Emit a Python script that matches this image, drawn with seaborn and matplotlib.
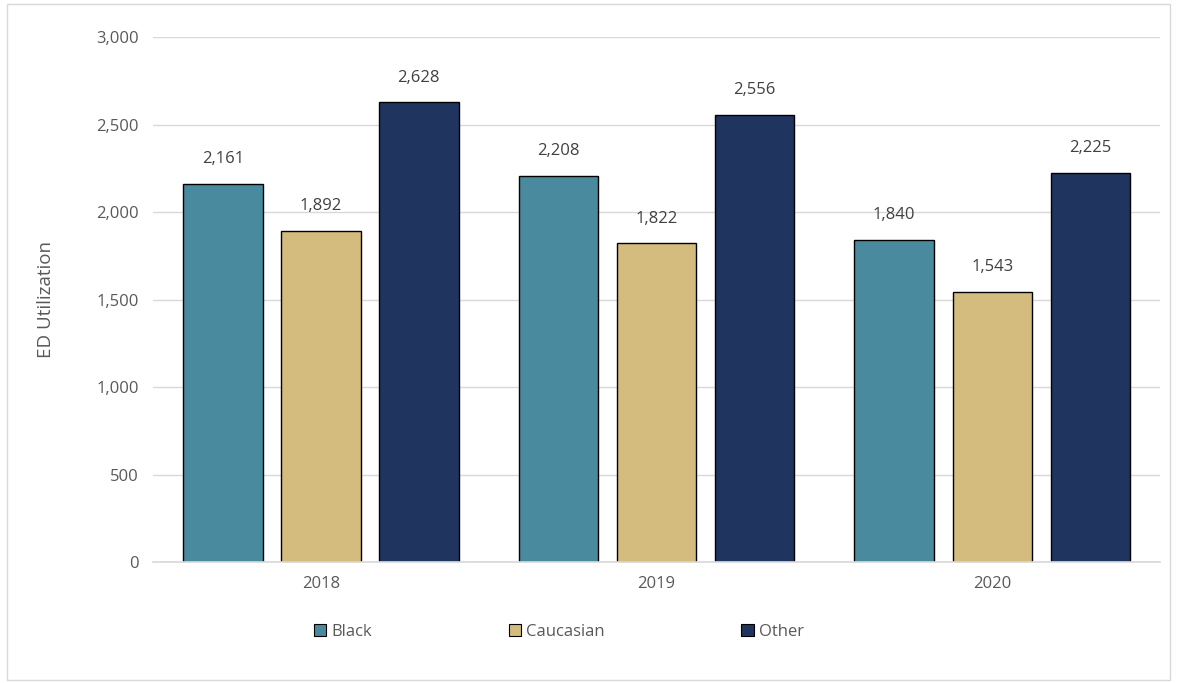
import matplotlib
matplotlib.use("Agg")
import matplotlib.pyplot as plt
import seaborn as sns
import pandas as pd
from matplotlib.patches import Rectangle

years = ["2018", "2019", "2020"]
groups = ["Black", "Caucasian", "Other"]
black = [2161, 2208, 1840]
caucasian = [1892, 1822, 1543]
other = [2628, 2556, 2225]
yticks = [0, 500, 1000, 1500, 2000, 2500, 3000]

colors = {"Black": "#4A8A9E", "Caucasian": "#D4BC7E", "Other": "#1F3560"}

rows = []
for i, y in enumerate(years):
    rows.append((y, "Black", black[i]))
    rows.append((y, "Caucasian", caucasian[i]))
    rows.append((y, "Other", other[i]))
df = pd.DataFrame(rows, columns=["Year", "Group", "Value"])

sns.set_theme(style="white")
plt.rcParams["font.family"] = ["Open Sans", "DejaVu Sans"]

fig = plt.figure(figsize=(11.77, 6.83), dpi=100)
ax = fig.add_axes([0.130, 0.177, 0.8556, 0.7687])

sns.barplot(data=df, x="Year", y="Value", hue="Group", order=years,
            hue_order=groups, palette=colors, saturation=1, width=0.876, gap=0.19,
            edgecolor="black", linewidth=1.0, ax=ax, legend=True)

ax.set_ylim(0, 3000)
ax.set_xlim(-0.5, 2.5)
ax.set_yticks(yticks)
ax.set_yticklabels([f"{v:,}" for v in yticks])
ax.yaxis.grid(True, color="#D9D9D9", linewidth=1)
ax.set_axisbelow(True)
for s in ["top", "right", "left"]:
    ax.spines[s].set_visible(False)
ax.spines["bottom"].set_color("#D9D9D9")
ax.tick_params(axis="both", length=0, labelsize=12, colors="#595959", pad=10)
ax.set_xlabel("")
ax.set_ylabel("ED Utilization", fontsize=13.5, color="#595959", labelpad=30)

for cont in ax.containers:
    ax.bar_label(cont, labels=[f"{int(v):,}" for v in cont.datavalues],
                 padding=12, fontsize=12, color="#404040")

handles, labels = ax.get_legend_handles_labels()
leg = ax.legend(handles, labels, loc="center", bbox_to_anchor=(0.403, -0.133),
                ncol=3, frameon=False, fontsize=12, handlelength=0.75,
                handleheight=0.75, handletextpad=0.3, columnspacing=8.2)
for t in leg.get_texts():
    t.set_color("#595959")
for h in leg.legend_handles:
    h.set_edgecolor("black")
    h.set_linewidth(0.8)

fig.patches.append(Rectangle((0.006, 0.004), 0.988, 0.99, transform=fig.transFigure,
                             fill=False, edgecolor="#D9D9D9", linewidth=1))

fig.savefig("out.png", dpi=100, facecolor="white")
